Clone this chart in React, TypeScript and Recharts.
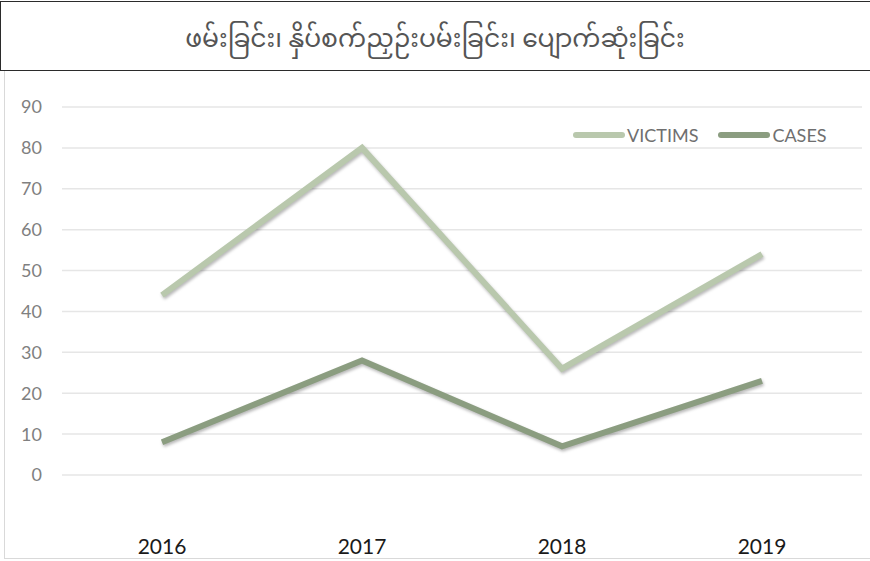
import { LineChart, Line, XAxis, YAxis, CartesianGrid } from 'recharts';

const YEARS = ['2016', '2017', '2018', '2019'];
const VICTIMS = [44, 80, 26, 54];
const CASES = [8, 28, 7, 23];
const Y_TICKS = [0, 10, 20, 30, 40, 50, 60, 70, 80, 90];

const TITLE = 'ဖမ်းခြင်း၊ နှိပ်စက်ညှဉ်းပမ်းခြင်း၊ ပျောက်ဆုံးခြင်း';

const data = YEARS.map((year, i) => ({ year, victims: VICTIMS[i], cases: CASES[i] }));

const FONT = "Lato, 'Open Sans', sans-serif";
const VICTIM_COLOR = '#b9c8ad';
const CASE_COLOR = '#8b9d80';
const SHADOW = { filter: 'drop-shadow(1px 2px 1.5px rgba(0,0,0,0.28))' };

// legend drawn by hand so the swatch looks like the thick rounded line
const LegendBox = () => (
  <div style={{
    position: 'absolute', top: 124, left: 573, display: 'flex', alignItems: 'center',
    fontFamily: FONT, fontSize: 18, color: '#6f6f6f',
  }}>
    {[
      { label: 'VICTIMS', color: VICTIM_COLOR },
      { label: 'CASES', color: CASE_COLOR },
    ].map((item, i) => (
      <div key={item.label} style={{ display: 'flex', alignItems: 'center', marginLeft: i ? 20 : 0 }}>
        <span style={{ width: 52, height: 6, borderRadius: 3, background: item.color, marginRight: 2 }} />
        <span>{item.label}</span>
      </div>
    ))}
  </div>
);

export default function App() {
  return (
    <div style={{ position: 'absolute', left: 0, top: 0, width: 870, height: 561, background: '#fff', overflow: 'hidden' }}>
      <div style={{
        position: 'absolute', left: 4, top: 70, width: 866, height: 488,
        borderLeft: '1px solid #d9d9d9', borderBottom: '1px solid #d9d9d9',
      }} />
      <div style={{ position: 'absolute', left: 0, top: 0 }}>
        <LineChart
          width={870}
          height={561}
          data={data}
          margin={{ top: 107, right: 8, bottom: 0, left: 0 }}
        >
          <CartesianGrid vertical={false} stroke="#e6e6e6" strokeWidth={1.5} />
          <XAxis
            dataKey="year"
            axisLine={false}
            tickLine={false}
            tickSize={0}
            tickMargin={64}
            height={86}
            padding={{ left: 100, right: 100 }}
            tick={{ fill: '#1a1a1a', fontSize: 21, fontFamily: FONT }}
          />
          <YAxis
            domain={[0, 90]}
            ticks={Y_TICKS}
            axisLine={false}
            tickLine={false}
            tickSize={0}
            tickMargin={20}
            width={62}
            tick={{ fill: '#808080', fontSize: 18, fontFamily: FONT }}
          />
          <Line
            dataKey="victims"
            stroke={VICTIM_COLOR}
            strokeWidth={6}
            dot={false}
            activeDot={false}
            isAnimationActive={false}
            style={SHADOW}
          />
          <Line
            dataKey="cases"
            stroke={CASE_COLOR}
            strokeWidth={6}
            dot={false}
            activeDot={false}
            isAnimationActive={false}
            style={SHADOW}
          />
        </LineChart>
      </div>
      <LegendBox />
      <div style={{
        position: 'absolute', left: 0, top: 1, width: 880, height: 70, boxSizing: 'border-box',
        border: '1.5px solid #2b2b2b', background: '#fff', paddingTop: 10, paddingRight: 10,
        display: 'flex', alignItems: 'center', justifyContent: 'center',
        fontFamily: "'Noto Sans Myanmar', 'Noto Sans', sans-serif", fontSize: 25, color: '#555',
      }}>
        {TITLE}
      </div>
    </div>
  );
}
